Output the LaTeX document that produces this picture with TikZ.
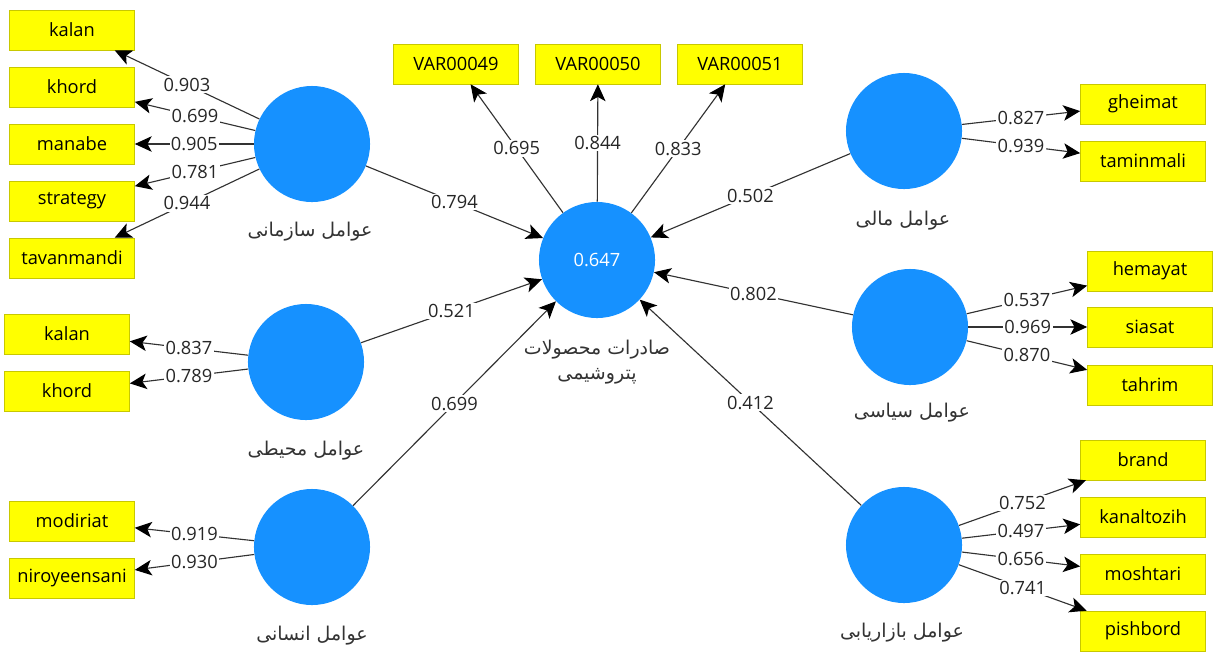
\documentclass[tikz,border=0pt]{standalone}
\usepackage{fontspec}
\setmainfont{Open Sans}
\newfontfamily\fafont[Script=Arabic]{DejaVu Sans}
\TeXXeTstate=1
\usepackage{tikz}
\usetikzlibrary{arrows.meta,calc}
\definecolor{lvblue}{RGB}{22,145,255}
\definecolor{indyellow}{RGB}{255,255,0}
\definecolor{indedge}{RGB}{200,200,0}
\definecolor{lnkgray}{RGB}{50,50,50}
\tikzset{
  indbox/.style={draw=indedge,fill=indyellow,minimum width=3.125cm,minimum height=1cm,inner sep=0pt,font=\fontsize{13}{15}\selectfont},
  lvar/.style={circle,fill=lvblue,minimum size=2.9cm,inner sep=0pt,text=white,font=\fontsize{13}{15}\selectfont},
  lvlab/.style={text=black!80,align=center,font=\fafont\fontsize{13.5}{18}\selectfont},
  wt/.style={fill=white,inner sep=1pt,text=black!85,font=\fontsize{13}{15}\selectfont},
  lnk/.style={draw=lnkgray,line width=0.8pt,-{Stealth[length=12pt,width=11pt,inset=3pt,black]}}
}
\begin{document}
\begin{tikzpicture}[x=0.025cm,y=-0.025cm]
  \useasboundingbox[fill=white] (0,0) rectangle (1213,652);
  % latent variables
  \node[lvar] (exp) at (597,260) {0.647};
  \node[lvar] (org) at (312,144) {};
  \node[lvar] (env) at (306,362) {};
  \node[lvar] (hum) at (312,547) {};
  \node[lvar] (fin) at (904,131) {};
  \node[lvar] (pol) at (910,327) {};
  \node[lvar] (mkt) at (904,545) {};
  \node[lvlab] (expl) at (597,362) {\beginR صادرات محصولات\endR\\\beginR پتروشیمی\endR};
  \node[lvlab] (orgl) at (310,232) {\beginR عوامل سازمانی\endR};
  \node[lvlab] (envl) at (306,451) {\beginR عوامل محیطی\endR};
  \node[lvlab] (huml) at (312,636) {\beginR عوامل انسانی\endR};
  \node[lvlab] (finl) at (903,221) {\beginR عوامل مالی\endR};
  \node[lvlab] (poll) at (912,413) {\beginR عوامل سیاسی\endR};
  \node[lvlab] (mktl) at (902,633) {\beginR عوامل بازاریابی\endR};
  % inner model
  \draw[lnk] (org) -- node[wt] {0.794} (exp);
  \draw[lnk] (env) -- node[wt] {0.521} (exp);
  \draw[lnk] (hum) -- node[wt] {0.699} (exp);
  \draw[lnk] (fin) -- node[wt] {0.502} (exp);
  \draw[lnk] (pol) -- node[wt] {0.802} (exp);
  \draw[lnk] (mkt) -- node[wt] {0.412} (exp);
  % outer model
  \foreach \i/\txt/\xx/\w in {49/VAR00049/456/0.695,50/VAR00050/598/0.844,51/VAR00051/740/0.833}{
    \node[indbox] (exp\i) at (\xx,64) {\txt};
    \draw[lnk] (exp) -- node[wt] {\w} (exp\i);
  }
  \foreach \i/\txt/\yy/\w in {1/kalan/30/0.903,2/khord/87/0.699,3/manabe/144/0.905,4/strategy/201/0.781,5/tavanmandi/258/0.944}{
    \node[indbox] (org\i) at (72,\yy) {\txt};
    \draw[lnk] (org) -- node[wt] {\w} (org\i);
  }
  \foreach \i/\txt/\yy/\w in {1/kalan/334/0.837,2/khord/391/0.789}{
    \node[indbox] (env\i) at (67,\yy) {\txt};
    \draw[lnk] (env) -- node[wt] {\w} (env\i);
  }
  \foreach \i/\txt/\yy/\w in {1/modiriat/521/0.919,2/niroyeensani/578/0.930}{
    \node[indbox] (hum\i) at (72,\yy) {\txt};
    \draw[lnk] (hum) -- node[wt] {\w} (hum\i);
  }
  \foreach \i/\txt/\yy/\w in {1/gheimat/104/0.827,2/taminmali/161/0.939}{
    \node[indbox] (fin\i) at (1143,\yy) {\txt};
    \draw[lnk] (fin) -- node[wt] {\w} (fin\i);
  }
  \foreach \i/\txt/\yy/\w in {1/hemayat/271/0.537,2/siasat/327/0.969,3/tahrim/385/0.870}{
    \node[indbox] (pol\i) at (1150,\yy) {\txt};
    \draw[lnk] (pol) -- node[wt] {\w} (pol\i);
  }
  \foreach \i/\txt/\yy/\w in {1/brand/460/0.752,2/kanaltozih/517/0.497,3/moshtari/574/0.656,4/pishbord/631/0.741}{
    \node[indbox] (mkt\i) at (1143,\yy) {\txt};
    \draw[lnk] (mkt) -- node[wt] {\w} (mkt\i);
  }
\end{tikzpicture}
\end{document}
